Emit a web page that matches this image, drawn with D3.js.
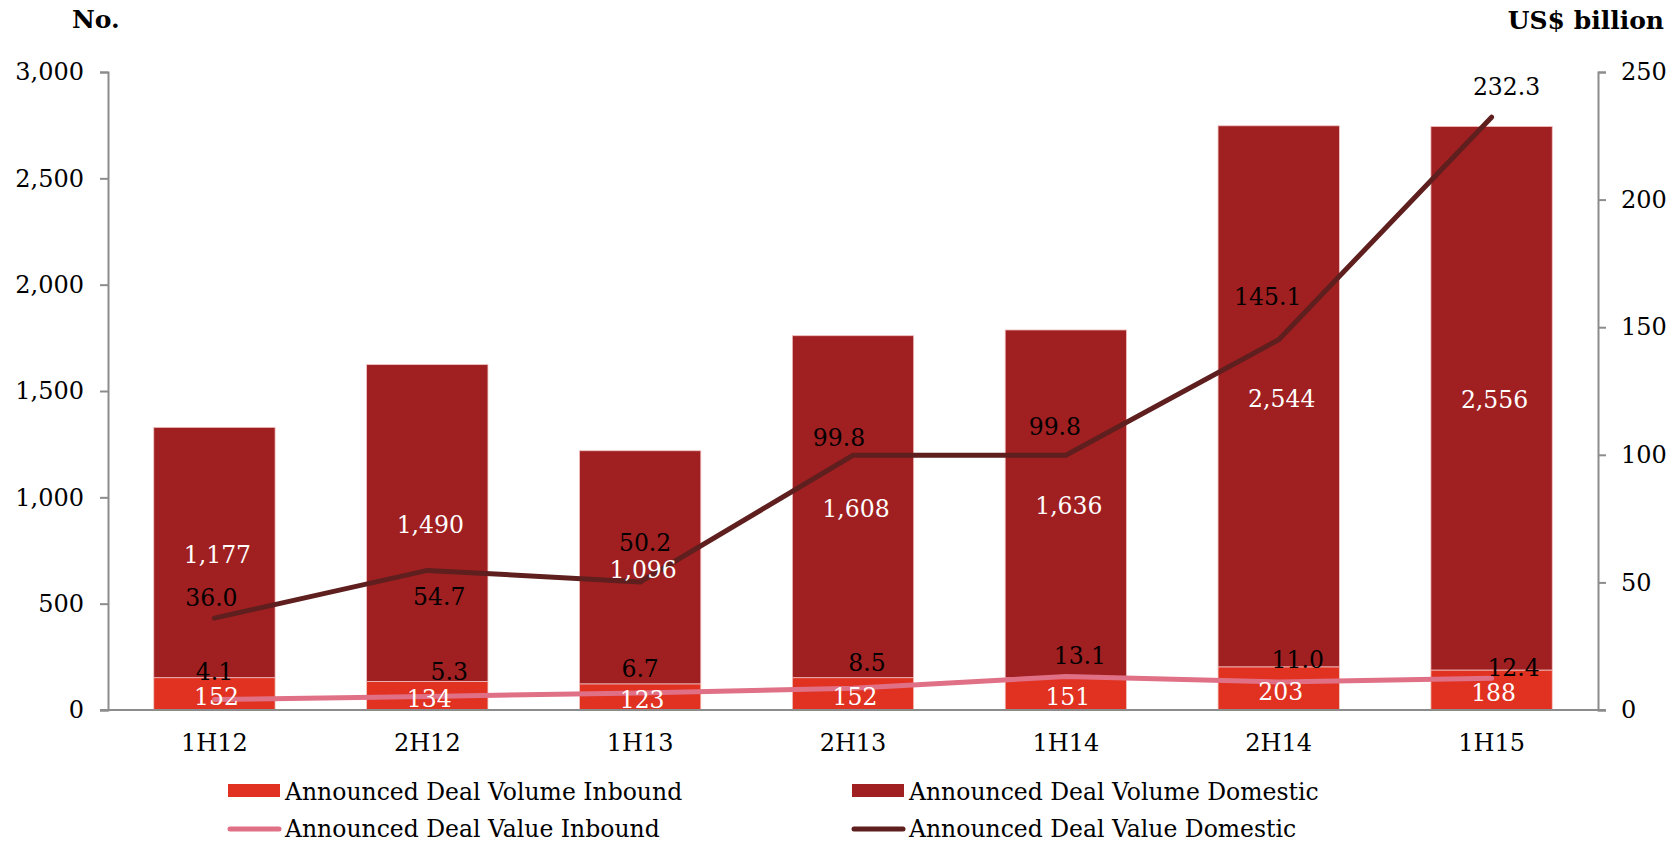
<!DOCTYPE html>
<html>
<head>
<meta charset="utf-8">
<script src="https://cdn.jsdelivr.net/npm/d3@7"></script>
<style>
  body { margin: 0; background: #fff; }
  svg text { font-family: "DejaVu Serif", Georgia, serif; }
</style>
</head>
<body>
<div id="chart-area"></div>
<script>
// deal volume (bars, left axis) and deal value (lines, right axis)

var periods = ["1H12", "2H12", "1H13", "2H13", "1H14", "2H14", "1H15"];
var volumeInbound = [152, 134, 123, 152, 151, 203, 188];
var volumeDomestic = [1177, 1490, 1096, 1608, 1636, 2544, 2556];
var valueInbound = [4.1, 5.3, 6.7, 8.5, 13.1, 11.0, 12.4];
var valueDomestic = [36.0, 54.7, 50.2, 99.8, 99.8, 145.1, 232.3];
var leftTicks = [0, 500, 1000, 1500, 2000, 2500, 3000];
var rightTicks = [0, 50, 100, 150, 200, 250];

// label nudges (px), the labels are placed by hand there
var domesticNudge = [[-3, -20], [12, 26], [5, -39], [-14, -18], [-11, -29], [-11, -43], [15, -30]];
var inboundNudge = [[0, -28], [22, -25], [0, -24], [14, -26], [14, -21], [19, -22], [22, -11]];

var colInbound = "#e03121",
    colDomestic = "#a01f21",
    colValInbound = "#e07085",
    colValDomestic = "#5e1f1e",
    axisCol = "#8c8c8c";

var W = 1680, H = 842;
var margin = { left: 108, right: 82, top: 72, bottom: 132 },
    width = W - margin.left - margin.right,
    height = H - margin.top - margin.bottom;

var svg = d3.select("#chart-area")
    .append("svg")
    .attr("width", W)
    .attr("height", H);

var g = svg.append("g")
    .attr("transform", "translate(" + margin.left + "," + margin.top + ")");

var x = d3.scaleBand()
    .domain(periods)
    .range([0, width])
    .paddingInner(0.43)
    .paddingOuter(0.215);

var y = d3.scaleLinear().domain([0, 3000]).range([height, 0]);
var y2 = d3.scaleLinear().domain([0, 250]).range([height, 0]);

var cx = function(i) { return x(periods[i]) + x.bandwidth() / 2; };

// axes
var yAxis = g.append("g")
    .call(d3.axisLeft(y).tickValues(leftTicks).tickFormat(d3.format(",")).tickSize(8).tickPadding(16));
var y2Axis = g.append("g")
    .attr("transform", "translate(" + width + ",0)")
    .call(d3.axisRight(y2).tickValues(rightTicks).tickSize(8).tickPadding(15));

[yAxis, y2Axis].forEach(function(a) {
  a.select(".domain").attr("stroke", axisCol).attr("stroke-width", 2);
  a.selectAll(".tick line").attr("stroke", axisCol).attr("stroke-width", 2);
  a.selectAll(".tick text").attr("fill", "#000").style("font-size", "24px");
});

// bars
var bars = g.append("g");
bars.selectAll(".inb")
    .data(volumeInbound)
  .enter().append("rect")
    .attr("x", function(d, i) { return x(periods[i]); })
    .attr("width", x.bandwidth())
    .attr("y", function(d) { return y(d); })
    .attr("height", function(d) { return y(0) - y(d); })
    .attr("fill", colInbound)
    .attr("stroke", "#f2c6c2")
    .attr("stroke-width", 0.8);

bars.selectAll(".dom")
    .data(volumeDomestic)
  .enter().append("rect")
    .attr("x", function(d, i) { return x(periods[i]); })
    .attr("width", x.bandwidth())
    .attr("y", function(d, i) { return y(d + volumeInbound[i]); })
    .attr("height", function(d) { return y(0) - y(d); })
    .attr("fill", colDomestic)
    .attr("stroke", "#f0c2c2")
    .attr("stroke-width", 0.8);

// x axis baseline
g.append("line")
    .attr("x1", -8).attr("x2", width + 8)
    .attr("y1", y(0)).attr("y2", y(0))
    .attr("stroke", axisCol)
    .attr("stroke-width", 2);

g.selectAll(".xlab")
    .data(periods)
  .enter().append("text")
    .attr("x", function(d, i) { return cx(i); })
    .attr("y", height + 33)
    .attr("dy", "0.35em")
    .attr("text-anchor", "middle")
    .style("font-size", "24px")
    .text(function(d) { return d; });

// lines
var lineIn = d3.line()
    .x(function(d, i) { return cx(i); })
    .y(function(d) { return y2(d); });

g.append("path")
    .datum(valueInbound)
    .attr("fill", "none")
    .attr("stroke", colValInbound)
    .attr("stroke-width", 5)
    .attr("stroke-linecap", "round")
    .attr("d", lineIn);

g.append("path")
    .datum(valueDomestic)
    .attr("fill", "none")
    .attr("stroke", colValDomestic)
    .attr("stroke-width", 5)
    .attr("stroke-linecap", "round")
    .attr("d", lineIn);

// bar labels
g.selectAll(".inbLab")
    .data(volumeInbound)
  .enter().append("text")
    .attr("x", function(d, i) { return cx(i) + 2; })
    .attr("y", function(d) { return y(d / 2) + 3; })
    .attr("dy", "0.35em")
    .attr("text-anchor", "middle")
    .attr("fill", "#fff")
    .style("font-size", "23.5px")
    .text(function(d) { return d3.format(",")(d); });

g.selectAll(".domLab")
    .data(volumeDomestic)
  .enter().append("text")
    .attr("x", function(d, i) { return cx(i) + 3; })
    .attr("y", function(d, i) { return y(volumeInbound[i] + d / 2) + 2; })
    .attr("dy", "0.35em")
    .attr("text-anchor", "middle")
    .attr("fill", "#fff")
    .style("font-size", "23.5px")
    .text(function(d) { return d3.format(",")(d); });

// value labels
g.selectAll(".vinLab")
    .data(valueInbound)
  .enter().append("text")
    .attr("x", function(d, i) { return cx(i) + inboundNudge[i][0]; })
    .attr("y", function(d, i) { return y2(d) + inboundNudge[i][1]; })
    .attr("dy", "0.35em")
    .attr("text-anchor", "middle")
    .attr("fill", "#000")
    .style("font-size", "23.5px")
    .text(function(d) { return d.toFixed(1); });

g.selectAll(".vdomLab")
    .data(valueDomestic)
  .enter().append("text")
    .attr("x", function(d, i) { return cx(i) + domesticNudge[i][0]; })
    .attr("y", function(d, i) { return y2(d) + domesticNudge[i][1]; })
    .attr("dy", "0.35em")
    .attr("text-anchor", "middle")
    .attr("fill", "#000")
    .style("font-size", "23.5px")
    .text(function(d) { return d.toFixed(1); });

// axis titles
svg.append("text")
    .attr("x", 72).attr("y", 19).attr("dy", "0.35em")
    .style("font-size", "25px").style("font-weight", "bold")
    .text("No.");
svg.append("text")
    .attr("x", 1664).attr("y", 20).attr("dy", "0.35em")
    .attr("text-anchor", "end")
    .style("font-size", "25px").style("font-weight", "bold")
    .text("US$ billion");

// legend
var legend = [
  { name: "Announced Deal Volume Inbound", col: colInbound, kind: "bar", x: 228, y: 791 },
  { name: "Announced Deal Volume Domestic", col: colDomestic, kind: "bar", x: 852, y: 791 },
  { name: "Announced Deal Value Inbound", col: colValInbound, kind: "line", x: 228, y: 829 },
  { name: "Announced Deal Value Domestic", col: colValDomestic, kind: "line", x: 852, y: 829 }
];

var lg = svg.selectAll(".leg")
    .data(legend)
  .enter().append("g")
    .attr("transform", function(d) { return "translate(" + d.x + "," + d.y + ")"; });

lg.filter(function(d) { return d.kind == "bar"; })
  .append("rect")
    .attr("x", 0).attr("y", -7)
    .attr("width", 52).attr("height", 13)
    .attr("fill", function(d) { return d.col; });

lg.filter(function(d) { return d.kind == "line"; })
  .append("line")
    .attr("x1", 2).attr("x2", 51)
    .attr("stroke", function(d) { return d.col; })
    .attr("stroke-width", 5)
    .attr("stroke-linecap", "round");

lg.append("text")
    .attr("x", 57)
    .attr("y", function(d) { return d.kind == "bar" ? 1 : 0; })
    .attr("dy", "0.35em")
    .style("font-size", "23.5px")
    .text(function(d) { return d.name; });
</script>
</body>
</html>
